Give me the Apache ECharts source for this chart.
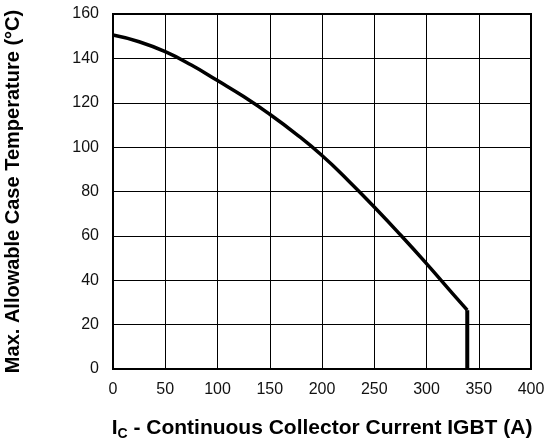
<!DOCTYPE html>
<html lang="en">
<head>
    <meta charset="UTF-8">
    <title>Max. Allowable Case Temperature</title>
    <script src="https://cdn.jsdelivr.net/npm/echarts@6/dist/echarts.min.js"></script>
</head>
<body style="margin: 0;">
    <div id="chart" style="width: 544px; height: 444px;"></div>
    <script>
        // values
        const currentA = [0, 25, 50, 75, 100, 125, 150, 175, 200, 225, 250, 275, 300, 325, 339];
        const caseTemp = [150.5, 147.5, 143, 137, 130, 122.8, 114.8, 106, 96.2, 85, 73, 60.5, 47.5, 34, 26.5];
        // vertical drop at the current limit
        const dropX = [339, 339];
        const dropY = [26.5, 0];

        const xTicks = [0, 50, 100, 150, 200, 250, 300, 350, 400];
        const yTicks = [0, 20, 40, 60, 80, 100, 120, 140, 160];

        const curve = currentA.map((x, i) => [x, caseTemp[i]]);
        const drop = dropX.map((x, i) => [x, dropY[i]]);

        const font = 'Liberation Sans, Arial, Helvetica, sans-serif';
        const myChart = echarts.init(document.getElementById('chart'));
        myChart.setOption({
            animation: false,
            grid: {
                left: 113, right: 13, top: 14, bottom: 75,
                outerBoundsMode: 'none',
                show: true, borderColor: '#000', borderWidth: 2
            },
            xAxis: {
                type: 'value',
                min: xTicks[0], max: xTicks[xTicks.length - 1], interval: 50,
                name: '{i|I}{sub|C}{t| - Continuous Collector Current IGBT (A)}',
                nameLocation: 'middle',
                nameGap: 46,
                nameTextStyle: {
                    rich: {
                        i: { fontFamily: font, fontWeight: 'bold', fontSize: 21, color: '#000' },
                        sub: { fontFamily: font, fontWeight: 'bold', fontSize: 14, color: '#000', padding: [12, 0, 0, 0] },
                        t: { fontFamily: font, fontWeight: 'bold', fontSize: 21, color: '#000' }
                    }
                },
                axisLine: { show: false },
                axisTick: { show: false },
                axisLabel: { margin: 13, fontFamily: font, fontSize: 16, color: '#111' },
                splitLine: { lineStyle: { color: '#000', width: 1 } }
            },
            yAxis: {
                type: 'value',
                min: yTicks[0], max: yTicks[yTicks.length - 1], interval: 20,
                name: 'Max. Allowable Case Temperature (°C)',
                nameLocation: 'middle',
                nameGap: 90,
                nameTextStyle: { fontFamily: font, fontWeight: 'bold', fontSize: 20, color: '#000' },
                axisLine: { show: false },
                axisTick: { show: false },
                axisLabel: { margin: 14, fontFamily: font, fontSize: 16, color: '#111' },
                splitLine: { lineStyle: { color: '#000', width: 1 } }
            },
            series: [
                {
                    type: 'line',
                    data: curve,
                    smooth: 0.5,
                    symbol: 'none',
                    lineStyle: { color: '#000', width: 3.5 }
                },
                {
                    type: 'line',
                    data: drop,
                    symbol: 'none',
                    lineStyle: { color: '#000', width: 4 }
                }
            ]
        });
    </script>
</body>
</html>
